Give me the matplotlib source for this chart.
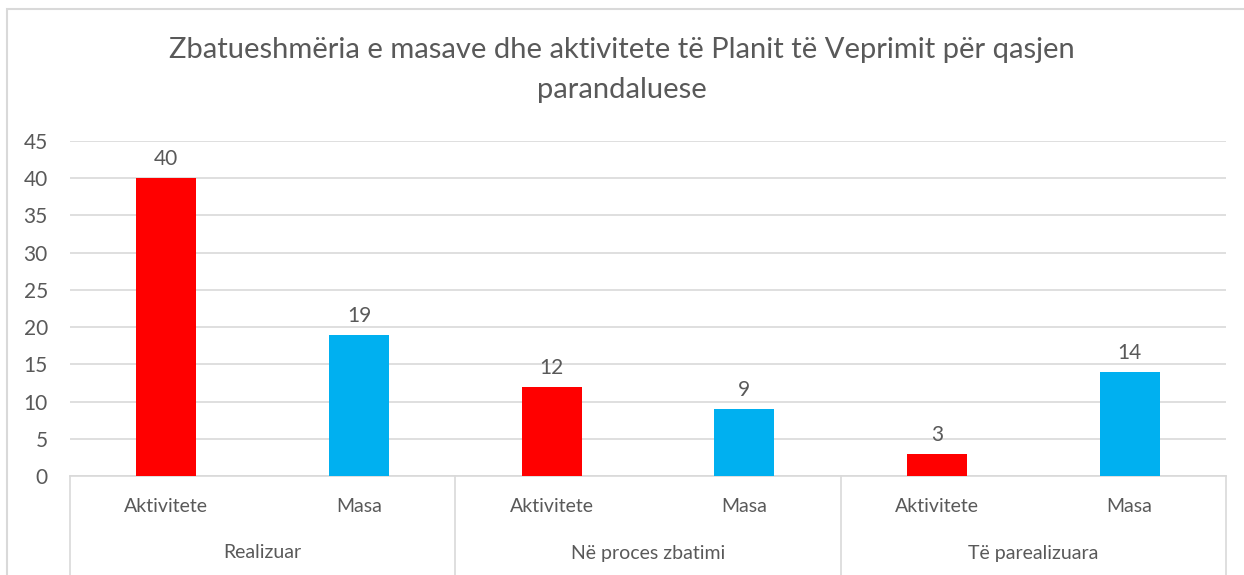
import matplotlib.pyplot as plt
from matplotlib.patches import Rectangle

# 数据
groups = ['Realizuar', 'Në proces zbatimi', 'Të parealizuara']
sub_labels = ['Aktivitete', 'Masa']
values = [40, 19, 12, 9, 3, 14]
colors = ['#ff0000', '#00b0f0']

txt = '#595959'
line = '#d9d9d9'
plt.rcParams['font.family'] = ['Lato', 'DejaVu Sans']

fig = plt.figure(figsize=(12.44, 5.75), dpi=100)
ax = fig.add_axes([70 / 1244, 1 - 476 / 575, 1156 / 1244, 335 / 575])

n = len(values)
x = list(range(n))
bar_colors = [colors[i % 2] for i in range(n)]
bars = ax.bar(x, values, width=0.31, color=bar_colors, zorder=3)
for b, v in zip(bars, values):
    ax.text(b.get_x() + b.get_width() / 2, v + 1.2, str(v), ha='center', va='bottom',
            fontsize=15, color=txt)

ax.set_xlim(-0.5, n - 0.5)
ax.set_ylim(0, 45)
ax.set_yticks(range(0, 46, 5))
ax.tick_params(axis='y', length=0, labelsize=15, labelcolor=txt, pad=16)
ax.yaxis.grid(True, color=line, linewidth=1.2, zorder=0)
ax.set_xticks([])
for s in ['top', 'right', 'left']:
    ax.spines[s].set_visible(False)
ax.spines['bottom'].set_color(line)
ax.spines['bottom'].set_linewidth(1.2)

# 多级类别轴
trans = ax.get_xaxis_transform()
for i in range(n):
    ax.text(i, -31 / 335, sub_labels[i % 2], transform=trans, ha='center', va='center',
            fontsize=14, color=txt)
for g, name in enumerate(groups):
    ax.text(2 * g + 0.5, -77 / 335, name, transform=trans, ha='center', va='center',
            fontsize=14, color=txt)
for k in range(len(groups) + 1):
    ax.plot([2 * k - 0.5, 2 * k - 0.5], [0, -110 / 335], transform=trans, color=line,
            linewidth=1.2, clip_on=False)

fig.text(0.5, 1 - 50 / 575, 'Zbatueshmëria e masave dhe aktivitete të Planit të Veprimit për qasjen',
         ha='center', va='center', fontsize=21, color=txt)
fig.text(0.5, 1 - 90 / 575, 'parandaluese', ha='center', va='center', fontsize=21, color=txt)

# 图表边框
fig.patches.append(Rectangle((7 / 1244, -0.1), 1.2, 1 - 9 / 575 + 0.1, transform=fig.transFigure,
                             fill=False, edgecolor=line, linewidth=1.5))

fig.savefig('out.png', dpi=100)
